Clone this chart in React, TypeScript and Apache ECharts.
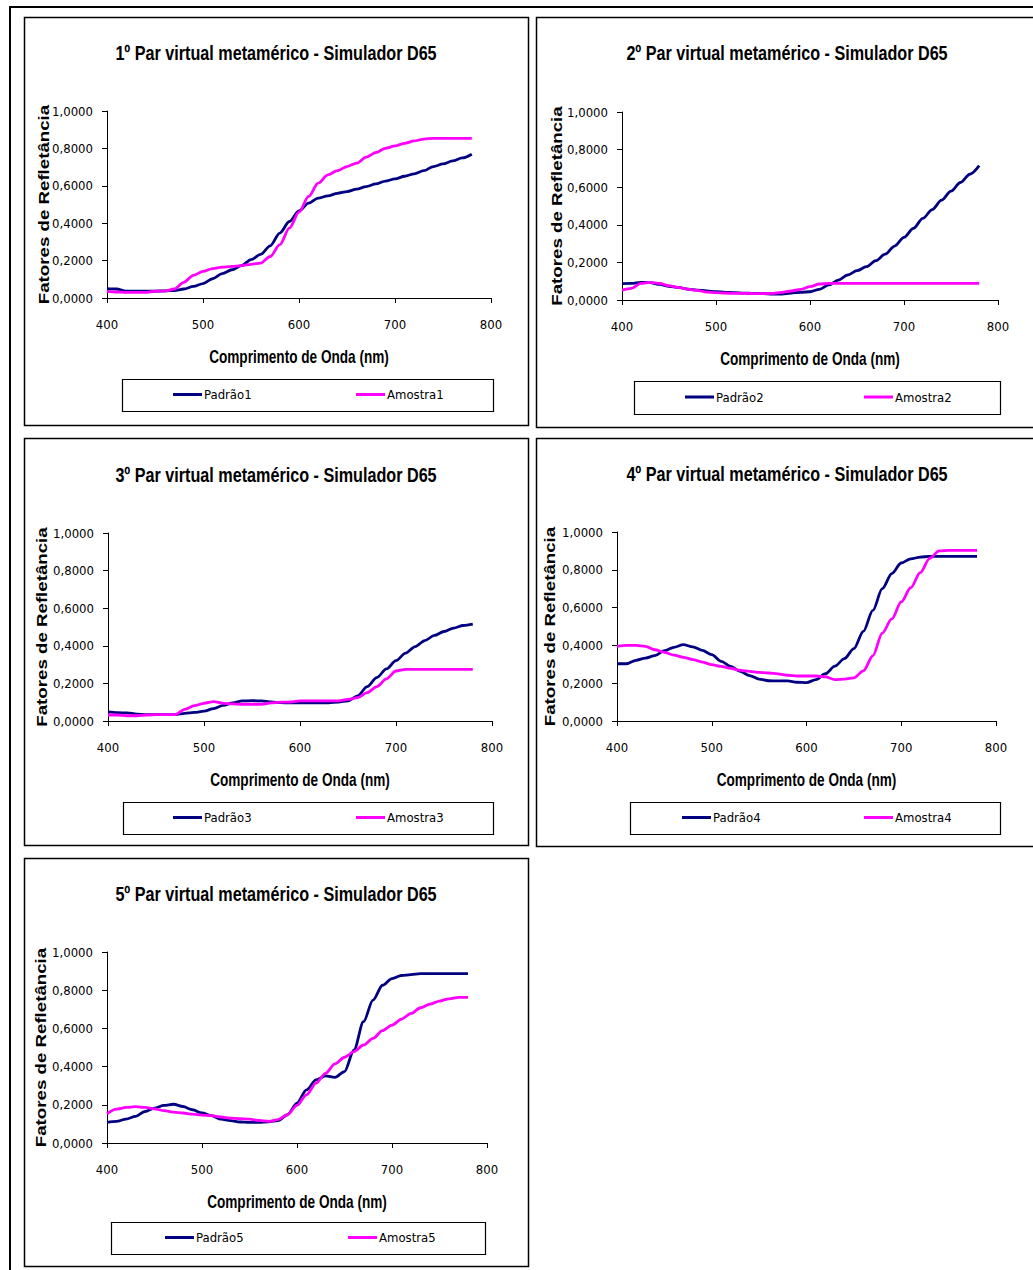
import React, { useEffect, useRef } from "react";
import * as echarts from "echarts";

// ---------- DATA ----------
const WAVELENGTHS = [400, 410, 420, 430, 440, 450, 460, 470, 480, 490, 500, 510, 520, 530, 540, 550, 560, 570, 580, 590, 600, 610, 620, 630, 640, 650, 660, 670, 680, 690, 700, 710, 720, 730, 740, 750, 760, 770, 780];

const PADRAO1 = [0.05, 0.048, 0.037, 0.037, 0.037, 0.037, 0.038, 0.04, 0.048, 0.062, 0.077, 0.103, 0.13, 0.151, 0.173, 0.205, 0.233, 0.279, 0.347, 0.409, 0.466, 0.507, 0.534, 0.546, 0.56, 0.569, 0.582, 0.596, 0.61, 0.625, 0.637, 0.651, 0.664, 0.681, 0.703, 0.717, 0.733, 0.749, 0.769];
const AMOSTRA1 = [0.036, 0.032, 0.03, 0.03, 0.03, 0.036, 0.037, 0.048, 0.084, 0.121, 0.142, 0.157, 0.165, 0.169, 0.173, 0.18, 0.187, 0.222, 0.285, 0.374, 0.459, 0.543, 0.614, 0.658, 0.681, 0.703, 0.721, 0.753, 0.778, 0.8, 0.813, 0.827, 0.84, 0.85, 0.854, 0.854, 0.854, 0.854, 0.854];

const PADRAO2 = [0.087, 0.088, 0.094, 0.092, 0.083, 0.073, 0.067, 0.058, 0.053, 0.048, 0.044, 0.041, 0.039, 0.037, 0.035, 0.034, 0.032, 0.032, 0.037, 0.041, 0.044, 0.057, 0.08, 0.106, 0.133, 0.156, 0.177, 0.209, 0.244, 0.287, 0.333, 0.381, 0.434, 0.481, 0.531, 0.579, 0.625, 0.669, 0.715];
const AMOSTRA2 = [0.053, 0.062, 0.088, 0.094, 0.088, 0.076, 0.067, 0.058, 0.051, 0.042, 0.039, 0.037, 0.035, 0.035, 0.034, 0.034, 0.035, 0.041, 0.048, 0.057, 0.071, 0.085, 0.088, 0.088, 0.088, 0.088, 0.088, 0.088, 0.088, 0.088, 0.088, 0.088, 0.088, 0.088, 0.088, 0.088, 0.088, 0.088, 0.088];

const PADRAO3 = [0.048, 0.044, 0.043, 0.037, 0.034, 0.034, 0.034, 0.034, 0.041, 0.046, 0.052, 0.066, 0.083, 0.096, 0.107, 0.108, 0.107, 0.101, 0.098, 0.096, 0.096, 0.096, 0.096, 0.096, 0.101, 0.107, 0.133, 0.183, 0.231, 0.277, 0.321, 0.361, 0.396, 0.428, 0.455, 0.476, 0.494, 0.508, 0.515];
const AMOSTRA3 = [0.032, 0.032, 0.028, 0.028, 0.032, 0.034, 0.034, 0.034, 0.062, 0.082, 0.094, 0.103, 0.094, 0.091, 0.089, 0.089, 0.089, 0.096, 0.1, 0.101, 0.107, 0.107, 0.107, 0.107, 0.107, 0.115, 0.124, 0.151, 0.183, 0.224, 0.266, 0.275, 0.275, 0.275, 0.275, 0.275, 0.275, 0.275, 0.275];

const PADRAO4 = [0.303, 0.303, 0.321, 0.333, 0.346, 0.372, 0.39, 0.404, 0.392, 0.374, 0.351, 0.316, 0.289, 0.263, 0.24, 0.222, 0.213, 0.212, 0.212, 0.205, 0.203, 0.219, 0.25, 0.29, 0.33, 0.383, 0.474, 0.585, 0.7, 0.78, 0.836, 0.858, 0.867, 0.871, 0.871, 0.871, 0.871, 0.871, 0.871];
const AMOSTRA4 = [0.395, 0.4, 0.4, 0.395, 0.377, 0.363, 0.349, 0.337, 0.325, 0.312, 0.298, 0.289, 0.279, 0.268, 0.263, 0.257, 0.254, 0.249, 0.242, 0.238, 0.238, 0.238, 0.233, 0.219, 0.222, 0.228, 0.265, 0.345, 0.465, 0.54, 0.63, 0.705, 0.785, 0.86, 0.9, 0.903, 0.903, 0.903, 0.903];

const PADRAO5 = [0.108, 0.113, 0.125, 0.139, 0.165, 0.183, 0.197, 0.203, 0.191, 0.174, 0.157, 0.143, 0.125, 0.117, 0.11, 0.108, 0.108, 0.111, 0.117, 0.148, 0.209, 0.278, 0.33, 0.351, 0.344, 0.374, 0.487, 0.635, 0.748, 0.826, 0.861, 0.877, 0.882, 0.887, 0.887, 0.887, 0.887, 0.887, 0.887];
const AMOSTRA5 = [0.153, 0.177, 0.186, 0.19, 0.186, 0.179, 0.169, 0.162, 0.157, 0.151, 0.146, 0.143, 0.136, 0.13, 0.127, 0.125, 0.118, 0.113, 0.122, 0.148, 0.197, 0.252, 0.313, 0.365, 0.414, 0.449, 0.478, 0.513, 0.548, 0.588, 0.617, 0.649, 0.678, 0.708, 0.727, 0.743, 0.755, 0.762, 0.762];

const TITLES = [
  "1º Par virtual metamérico - Simulador D65",
  "2º Par virtual metamérico - Simulador D65",
  "3º Par virtual metamérico - Simulador D65",
  "4º Par virtual metamérico - Simulador D65",
  "5º Par virtual metamérico - Simulador D65",
];
const PADRAO_NAMES = ["Padrão1", "Padrão2", "Padrão3", "Padrão4", "Padrão5"];
const AMOSTRA_NAMES = ["Amostra1", "Amostra2", "Amostra3", "Amostra4", "Amostra5"];
const X_TITLE = "Comprimento de Onda (nm)";
const Y_TITLE = "Fatores de Refletância";
const X_MIN = 400, X_MAX = 800, X_STEP = 100;
const Y_MIN = 0, Y_MAX = 1, Y_STEP = 0.2;

const PADRAO_SERIES = [PADRAO1, PADRAO2, PADRAO3, PADRAO4, PADRAO5];
const AMOSTRA_SERIES = [AMOSTRA1, AMOSTRA2, AMOSTRA3, AMOSTRA4, AMOSTRA5];

// ---------- LAYOUT ----------
const NARROW = "'DejaVu Sans Condensed', 'Liberation Sans Narrow', sans-serif";
const ARIAL = "'Liberation Sans', Arial, sans-serif";
const NAVY = "#000080";
const MAGENTA = "#FF00FF";

const LAYOUT = [
  { box: [24, 17, 504, 408], grid: { left: 107, top: 111, width: 384, height: 187 }, titleX: 276, titleY: 53, yNameOff: 63, leg: { box: [122, 379, 371, 32], blue: 173, pink: 356 } },
  { box: [536, 17, 510, 410], grid: { left: 622, top: 112, width: 376, height: 188 }, titleX: 787, titleY: 53, yNameOff: 64.5, leg: { box: [634, 381, 366, 33], blue: 685, pink: 864 } },
  { box: [24, 438, 504, 407], grid: { left: 108, top: 533, width: 384, height: 188 }, titleX: 276, titleY: 475, yNameOff: 65.5, leg: { box: [123, 802, 370, 32], blue: 173, pink: 356 } },
  { box: [536, 438, 510, 408], grid: { left: 617, top: 532, width: 379, height: 189 }, titleX: 787, titleY: 474, yNameOff: 67, leg: { box: [630, 802, 370, 32], blue: 682, pink: 864 } },
  { box: [24, 858, 504, 408], grid: { left: 107, top: 952, width: 380, height: 191 }, titleX: 276, titleY: 894, yNameOff: 65.5, leg: { box: [111, 1222, 374, 32], blue: 165, pink: 348 } },
];

function buildOption() {
  const grids: any[] = [];
  const xAxes: any[] = [];
  const yAxes: any[] = [];
  const series: any[] = [];
  const legends: any[] = [];
  const graphics: any[] = [];

  graphics.push({
    type: "rect",
    shape: { x: 10, y: 7, width: 1040, height: 1266 },
    style: { fill: "none", stroke: "#000", lineWidth: 2 },
    silent: true,
  });

  LAYOUT.forEach((L, i) => {
    const g = L.grid;
    grids.push({ ...g, containLabel: false });
    xAxes.push({
      gridIndex: i,
      type: "value",
      min: X_MIN,
      max: X_MAX,
      interval: X_STEP,
      axisLine: { show: true, onZero: false, lineStyle: { color: "#000", width: 1 } },
      axisTick: { show: true, length: 5, lineStyle: { color: "#000" } },
      splitLine: { show: false },
      axisLabel: { color: "#000", fontFamily: NARROW, fontSize: 13, margin: 20 },
    });
    yAxes.push({
      gridIndex: i,
      type: "value",
      min: Y_MIN,
      max: Y_MAX,
      interval: Y_STEP,
      axisLine: { show: true, lineStyle: { color: "#000", width: 1 } },
      axisTick: { show: true, length: 5, lineStyle: { color: "#000" } },
      splitLine: { show: false },
      axisLabel: {
        color: "#000",
        fontFamily: NARROW,
        fontSize: 13,
        margin: 14,
        formatter: (v: number) => v.toFixed(4).replace(".", ","),
      },
    });
    series.push({
      name: PADRAO_NAMES[i],
      type: "line",
      xAxisIndex: i,
      yAxisIndex: i,
      data: WAVELENGTHS.map((w, k) => [w, PADRAO_SERIES[i][k]]),
      symbol: "none",
      showSymbol: false,
      smooth: 0.3,
      smoothMonotone: "x",
      lineStyle: { color: NAVY, width: 2.8 },
      itemStyle: { color: NAVY },
    });
    series.push({
      name: AMOSTRA_NAMES[i],
      type: "line",
      xAxisIndex: i,
      yAxisIndex: i,
      data: WAVELENGTHS.map((w, k) => [w, AMOSTRA_SERIES[i][k]]),
      symbol: "none",
      showSymbol: false,
      smooth: 0.3,
      smoothMonotone: "x",
      lineStyle: { color: MAGENTA, width: 2.8 },
      itemStyle: { color: MAGENTA },
    });

    const cy = L.leg.box[1] + L.leg.box[3] / 2;
    const legCommon = {
      orient: "horizontal",
      icon: "rect",
      itemWidth: 29,
      itemHeight: 3,
      padding: 0,
      textStyle: { fontFamily: NARROW, fontSize: 13, color: "#000", padding: [0, 0, 0, -3] },
      top: cy - 7,
    };
    legends.push({ ...legCommon, data: [PADRAO_NAMES[i]], left: L.leg.blue });
    legends.push({ ...legCommon, data: [AMOSTRA_NAMES[i]], left: L.leg.pink });

    // panel frame
    graphics.push({
      type: "rect",
      shape: { x: L.box[0] + 0.5, y: L.box[1] + 0.5, width: L.box[2], height: L.box[3] },
      style: { fill: "none", stroke: "#000", lineWidth: 1.5 },
      silent: true,
    });
    // legend frame
    graphics.push({
      type: "rect",
      shape: { x: L.leg.box[0] + 0.5, y: L.leg.box[1] + 0.5, width: L.leg.box[2], height: L.leg.box[3] },
      style: { fill: "none", stroke: "#000", lineWidth: 1.2 },
      silent: true,
    });
    // chart title
    graphics.push({
      type: "text",
      x: L.titleX,
      y: L.titleY,
      scaleX: 0.77,
      style: {
        text: TITLES[i],
        fill: "#000",
        fontFamily: ARIAL,
        fontWeight: "bold",
        fontSize: 21,
        textAlign: "center",
        textVerticalAlign: "middle",
      },
      silent: true,
    });
    // x axis title
    graphics.push({
      type: "text",
      x: g.left + g.width / 2,
      y: g.top + g.height + 59,
      scaleX: 0.756,
      style: {
        text: X_TITLE,
        fill: "#000",
        fontFamily: ARIAL,
        fontWeight: "bold",
        fontSize: 18,
        textAlign: "center",
        textVerticalAlign: "middle",
      },
      silent: true,
    });
    // y axis title
    graphics.push({
      type: "text",
      x: g.left - L.yNameOff,
      y: g.top + g.height / 2,
      rotation: Math.PI / 2,
      scaleY: 0.8,
      style: {
        text: Y_TITLE,
        fill: "#000",
        fontFamily: ARIAL,
        fontWeight: "bold",
        fontSize: 18.7,
        textAlign: "center",
        textVerticalAlign: "middle",
      },
      silent: true,
    });
  });

  return {
    animation: false,
    backgroundColor: "#fff",
    grid: grids,
    xAxis: xAxes,
    yAxis: yAxes,
    series,
    legend: legends,
    graphic: graphics,
  };
}

export default function App() {
  const ref = useRef<HTMLDivElement>(null);
  useEffect(() => {
    if (!ref.current) return;
    const chart = echarts.init(ref.current, undefined, { renderer: "svg" });
    chart.setOption(buildOption() as any);
    return () => chart.dispose();
  }, []);
  return (
    <div
      ref={ref}
      style={{ position: "absolute", left: 0, top: 0, width: 1033, height: 1270, background: "#fff" }}
    />
  );
}
